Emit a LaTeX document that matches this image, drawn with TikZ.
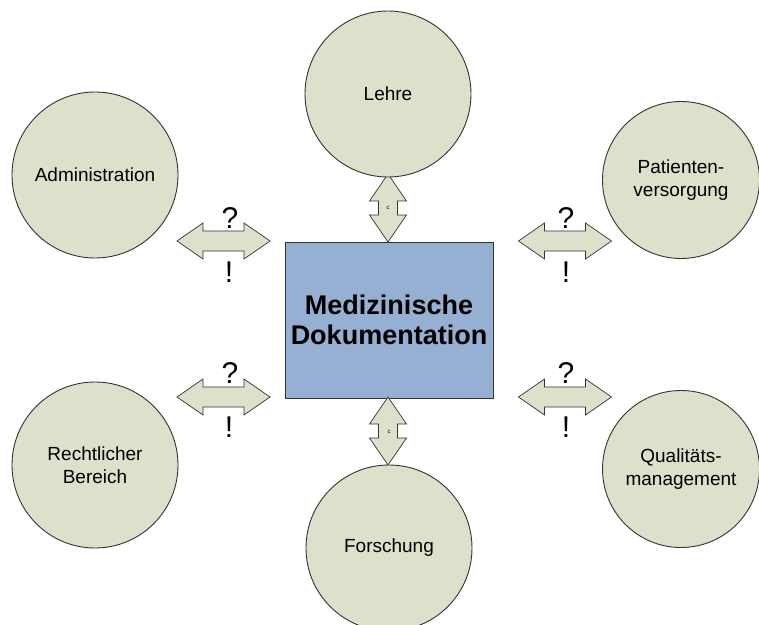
\documentclass[tikz,border=0pt]{standalone}
\usepackage{fontspec}
\setmainfont{Liberation Sans}
\definecolor{topicfill}{HTML}{DDE0CA}
\definecolor{corefill}{HTML}{95B0D3}
\definecolor{edgegray}{HTML}{333333}
\begin{document}
\begin{tikzpicture}[x=1bp,y=-1bp,
  topic/.style={circle, draw=edgegray, line width=0.9bp, fill=topicfill,
    minimum size=166bp, inner sep=0pt, align=center,
    font=\fontsize{19bp}{23bp}\selectfont},
  core/.style={rectangle, draw=edgegray, line width=0.9bp, fill=corefill,
    minimum width=208bp, minimum height=156bp, inner sep=0pt, align=center,
    font=\fontsize{27bp}{30bp}\selectfont\bfseries},
  arrowline/.style={draw=edgegray, line width=0.7bp, fill=topicfill, line join=miter},
  qsign/.style={font=\fontsize{30bp}{30bp}\selectfont, inner sep=0pt},
  tinysign/.style={font=\fontsize{6bp}{6bp}\selectfont, inner sep=0pt},
  % horizontal two-headed block arrow
  hexch/.pic={\path[arrowline] (-46.5,0) -- (-20.5,-18) -- (-20.5,-10) -- (20.5,-10)
      -- (20.5,-18) -- (46.5,0) -- (20.5,18) -- (20.5,10) -- (-20.5,10)
      -- (-20.5,18) -- cycle;},
  % vertical two-headed block arrow
  vexch/.pic={\path[arrowline] (0,-34) -- (18.5,-7) -- (9.5,-7) -- (9.5,7)
      -- (18.5,7) -- (0,34) -- (-18.5,7) -- (-9.5,7) -- (-9.5,-7)
      -- (-18.5,-7) -- cycle;}
]
\useasboundingbox (0,0) rectangle (759,625);

% central topic
\node[core] (doc) at (389,320) {Medizinische\\Dokumentation};

% exchange arrows between the centre and the fields
\pic (ex-adm) at (223.5,241) {hexch};
\pic (ex-pat) at (565,241) {hexch};
\pic (ex-rec) at (223.5,397) {hexch};
\pic (ex-qm)  at (565,397) {hexch};
\pic (ex-leh) at (388,208) {vexch};
\pic (ex-for) at (388,431) {vexch};

% question / answer marks
\node[qsign] (q-adm) at (230,218) {?};
\node[qsign] (a-adm) at (229,272) {!};
\node[qsign] (q-pat) at (566,218) {?};
\node[qsign] (a-pat) at (566,272) {!};
\node[qsign] (q-rec) at (230,373) {?};
\node[qsign] (a-rec) at (229,427) {!};
\node[qsign] (q-qm)  at (566,373) {?};
\node[qsign] (a-qm)  at (566,427) {!};
\node[tinysign] (t-leh) at (388,208) {c};
\node[tinysign] (t-for) at (389,432) {c};

% surrounding fields
\node[topic] (lehre) at (388,94)  {Lehre};
\node[topic] (adm)   at (95,175)  {Administration};
\node[topic, minimum size=157bp] (pat) at (681,180) {Patienten-\\versorgung};
\node[topic] (rec)   at (95,465)  {Rechtlicher\\Bereich};
\node[topic, minimum size=157bp] (qm) at (681,469) {Qualitäts-\\management};
\node[topic] (for)   at (389,548) {Forschung};
\end{tikzpicture}
\end{document}
